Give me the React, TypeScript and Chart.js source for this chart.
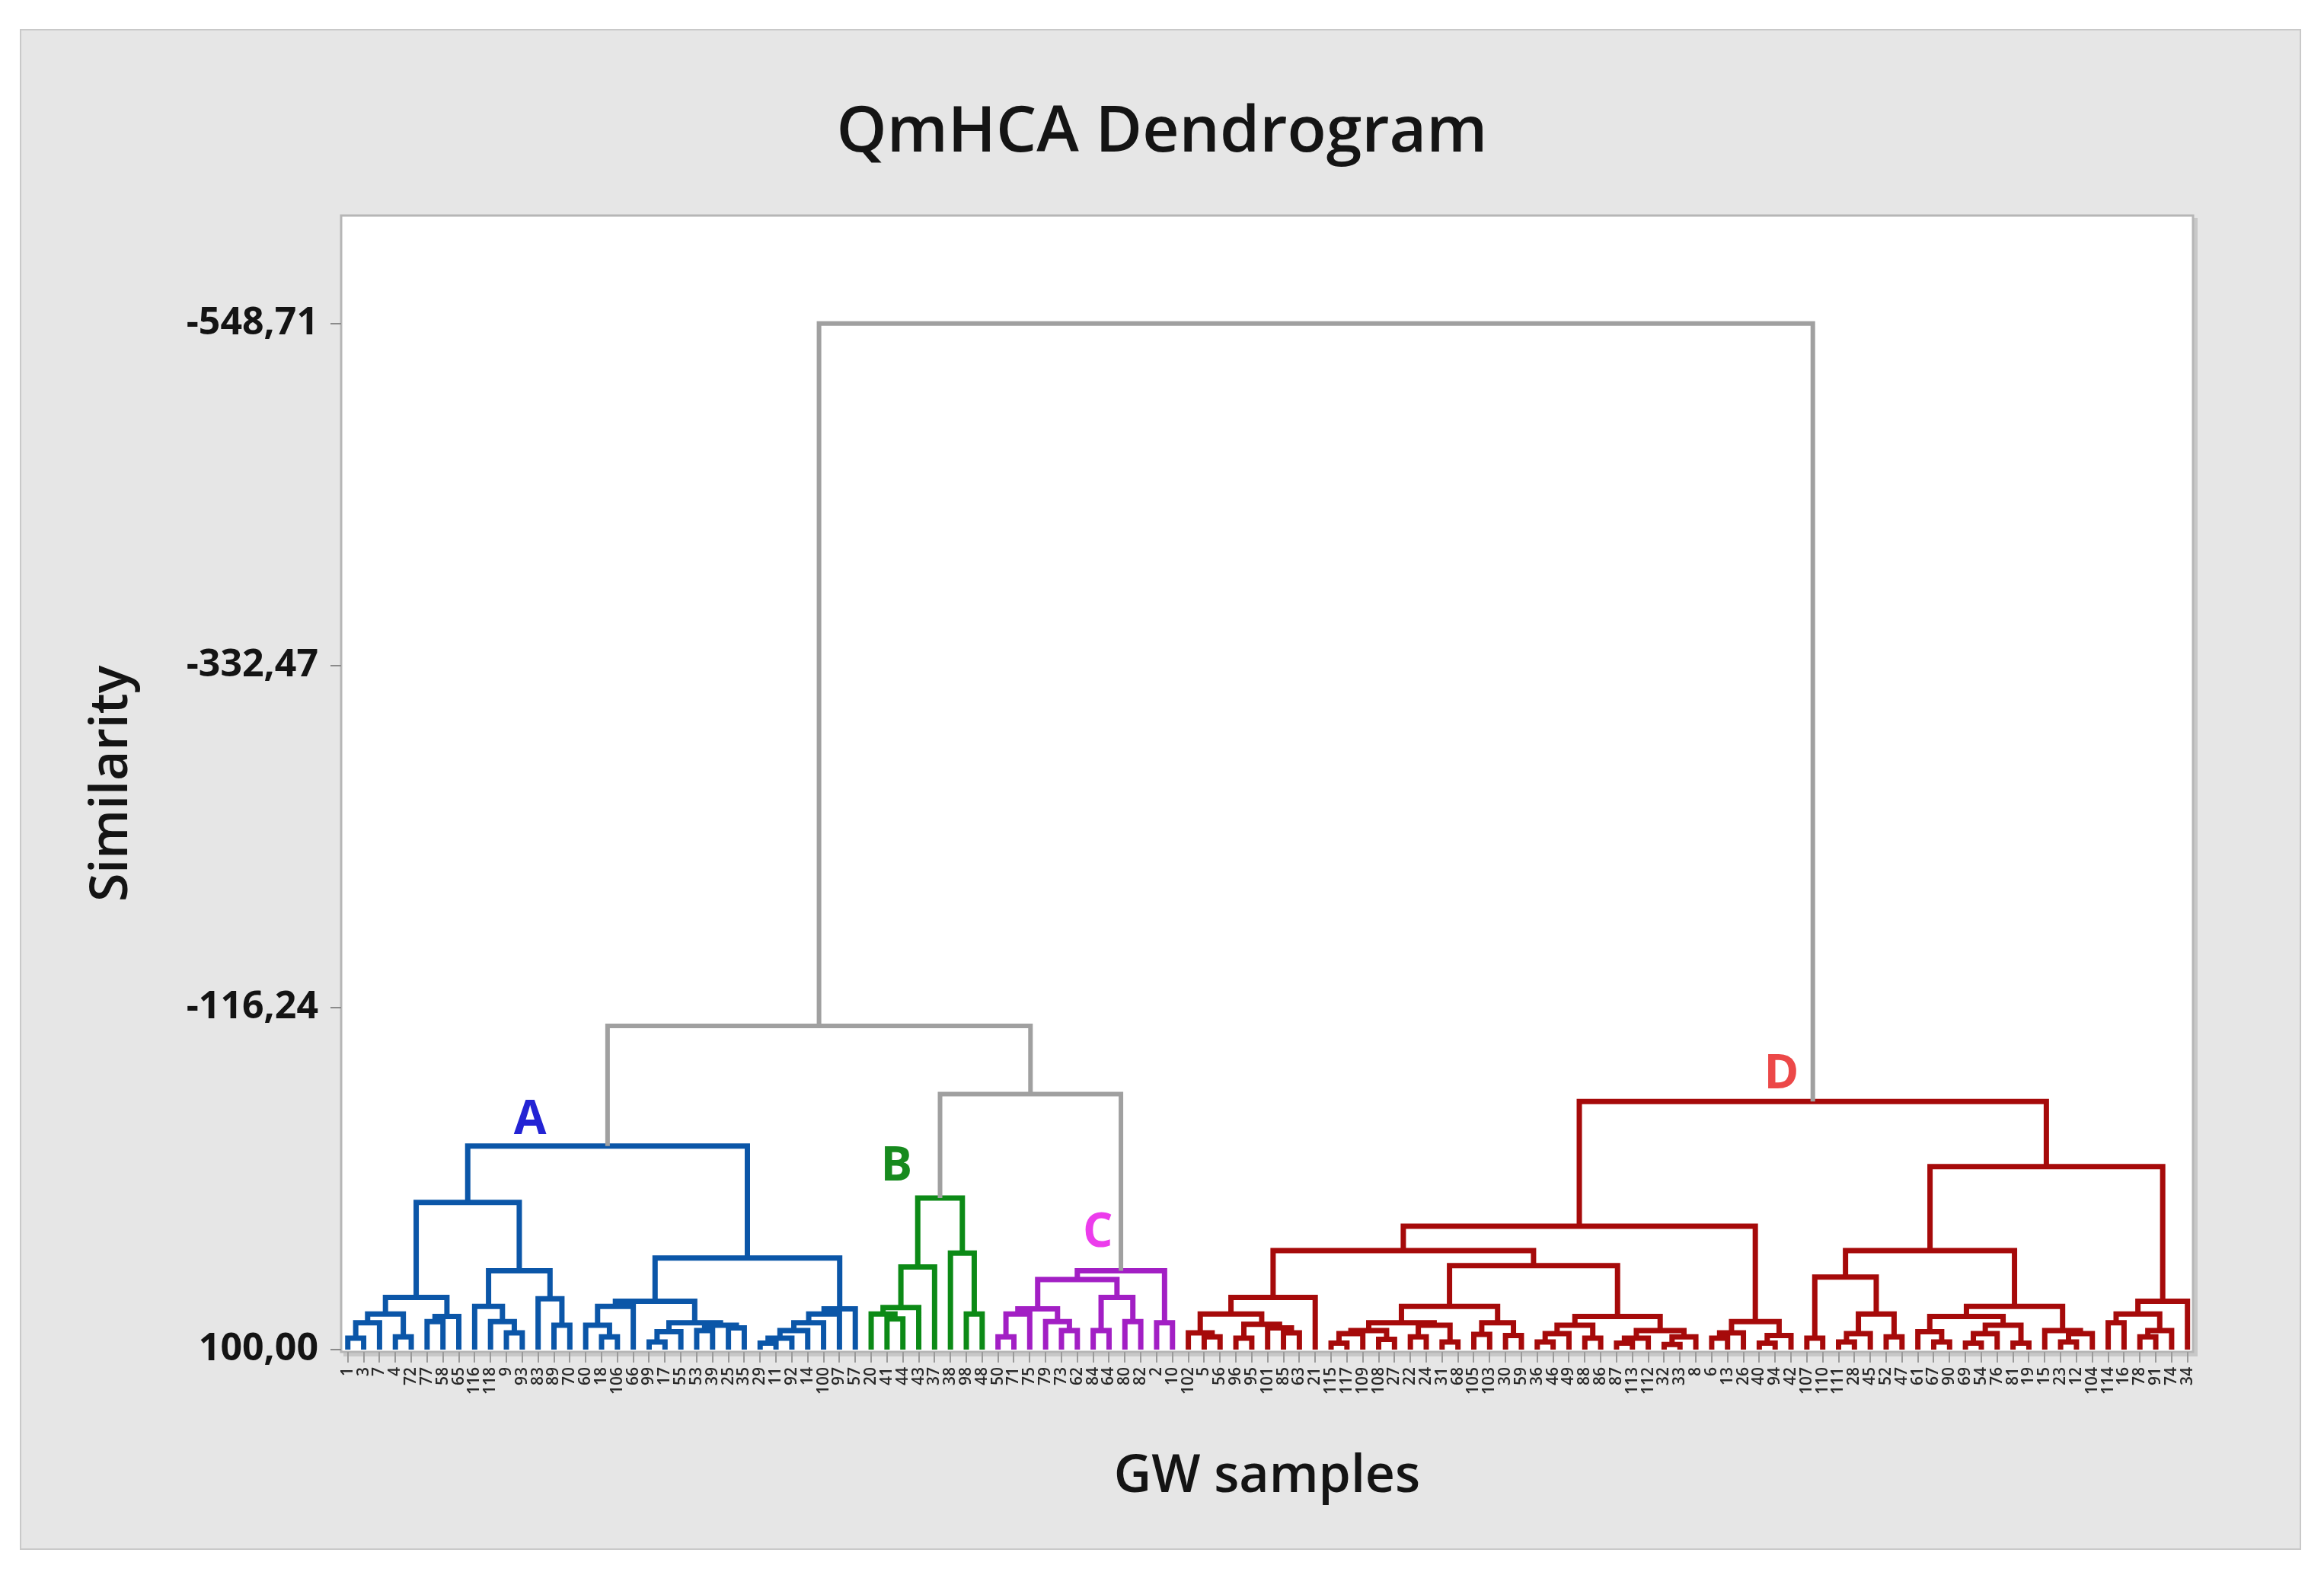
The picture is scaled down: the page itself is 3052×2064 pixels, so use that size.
import React, { useEffect, useRef } from 'react';
import { Chart, registerables } from 'chart.js';

Chart.register(...registerables);

// ---------- texts ----------
const chartTitle = 'QmHCA Dendrogram';
const xAxisTitle = 'GW samples';
const yAxisTitle = 'Similarity';

// ---------- y ticks (similarity) ----------
const yTickValues = [-548.71, -332.47, -116.24, 100.0];
const leafSimilarity = 100.0;

// ---------- sample labels (leaf order, left to right) ----------
const labelsA = ['1', '3', '7', '4', '72', '77', '58', '65', '116', '118', '9', '93', '83', '89', '70', '60', '18', '106', '66', '99', '17', '55', '53', '39', '25', '35', '29', '11', '92', '14', '100', '97', '57'];
const labelsB = ['20', '41', '44', '43', '37', '38', '98', '48'];
const labelsC = ['50', '71', '75', '79', '73', '62', '84', '64', '80', '82', '2', '10'];
const labelsD = ['102', '5', '56', '96', '95', '101', '85', '63', '21', '115', '117', '109', '108', '27', '22', '24', '31', '68', '105', '103', '30', '59', '36', '46', '49', '88', '86', '87', '113', '112', '32', '33', '8', '6', '13', '26', '40', '94', '42', '107', '110', '111', '28', '45', '52', '47', '61', '67', '90', '69', '54', '76', '81', '19', '15', '23', '12', '104', '114', '16', '78', '91', '74', '34'];
const sampleLabels = [...labelsA, ...labelsB, ...labelsC, ...labelsD];

// ---------- merge trees: [similarity, left, right]; numbers = leaf positions ----------
type Tree = number | [number, Tree, Tree];

const clusterA: Tree = [-28.6,
  [7.0,
    [67.1,
      [77.5, [83.1, [92.8, 0, 1], 2], [92.0, 3, 4]],
      [79.1, [82.3, 5, 6], 7]],
    [50.2,
      [72.7, 8, [82.3, 9, [89.5, 10, 11]]],
      [67.9, 12, [84.7, 13, 14]]]],
  [42.2,
    [69.5,
      [72.7, [84.7, 15, [92.0, 16, 17]], 18],
      [83.1, [88.7, [95.2, 19, 20], 21], [84.7, [88.0, 22, 23], [86.3, 24, 25]]]],
    [74.3, [77.5, [83.1, [88.0, [92.8, [96.0, 26, 27], 28], 29], 30], 31], 32]]];

const clusterB: Tree = [4.2,
  [47.8, [73.5, [77.5, 33, [80.7, 34, 35]], 36], 37],
  [39.0, 38, [77.5, 39, 40]]];

const clusterC: Tree = [50.2,
  [55.8,
    [74.3, [77.5, [92.0, 41, 42], 43], [82.3, 44, [88.0, 45, 46]]],
    [67.1, [88.0, 47, 48], [82.3, 49, 50]]],
  [83.1, 51, 52]];

const clusterD: Tree = [-56.8,
  [22.0,
    [37.4,
      [67.1,
        [77.5, [89.5, 53, [92.0, 54, 55]], [84.0, [92.8, 56, 57], [86.3, 58, [89.5, 59, 60]]]],
        61],
      [47.0,
        [72.7,
          [83.1, [88.0, [90.0, [96.0, 62, 63], 64], [93.6, 65, 66]], [84.7, [92.0, 67, 68], [95.2, 69, 70]]],
          [83.1, [90.4, 71, 72], [91.2, 73, 74]]],
        [79.1,
          [84.7, [90.0, [95.2, 75, 76], 77], [92.8, 78, 79]],
          [88.0, [92.8, [96.0, 80, 81], 82], [92.0, [96.8, 83, 84], 85]]]]],
    [82.3, [89.5, [92.8, 86, 87], 88], [91.2, [96.0, 89, 90], 91]]],
  [-15.6,
    [37.4,
      [54.2, [92.8, 92, 93], [77.5, [90.0, [95.2, 94, 95], 96], [92.0, 97, 98]]],
      [72.7,
        [79.1, [88.7, 99, [95.2, 100, 101]], [84.7, [90.0, [96.0, 102, 103], 104], [96.0, 105, 106]]],
        [88.0, 107, [90.0, [95.2, 108, 109], 110]]]],
    [69.5, [77.5, [83.1, 111, 112], [88.0, [92.0, 113, 114], 115]], 116]]];

const bcSimilarity = -61.5;
const abcSimilarity = -104.6;
const rootSimilarity = -548.71;

// ---------- cluster letters (placed in data units) ----------
const clusterNames = ['A', 'B', 'C', 'D'];
const clusterLetterX = [11.5, 34.6, 47.3, 90.4];
const clusterLetterY = [-44.5, -15.4, 26.5, -73.7];

// ---------- styles ----------
const FONT = "'Open Sans', 'Noto Sans', sans-serif";
const linkColor = '#a0a0a0';
const clusterLineColors = ['#0b56a8', '#0c8a16', '#a21fc4', '#a60a0a'];
const clusterLetterColors = ['#2323d4', '#178a1e', '#ec3cec', '#ec4848'];

type Pt = { x: number; y: number | null };

function buildSegments() {
  const root: Tree = [rootSimilarity, [abcSimilarity, clusterA, [bcSimilarity, clusterB, clusterC]], clusterD];
  const colorOf = new Map<any, string>();
  [clusterA, clusterB, clusterC, clusterD].forEach((t, i) => colorOf.set(t, clusterLineColors[i]));
  const buckets = new Map<string, Pt[]>();
  [linkColor, ...clusterLineColors].forEach((c) => buckets.set(c, []));

  const walk = (node: Tree, inherited: string): { x: number; h: number } => {
    if (typeof node === 'number') return { x: node, h: leafSimilarity };
    const color = colorOf.get(node) ?? inherited;
    const [h, L, R] = node;
    const l = walk(L, color);
    const r = walk(R, color);
    const arr = buckets.get(color)!;
    arr.push({ x: l.x, y: l.h }, { x: l.x, y: h }, { x: r.x, y: h }, { x: r.x, y: r.h }, { x: r.x, y: null });
    return { x: (l.x + r.x) / 2, h };
  };
  walk(root, linkColor);
  return buckets;
}

const decorPlugin = {
  id: 'decor',
  beforeDraw(chart: any) {
    const { ctx, width, height, chartArea: a } = chart;
    ctx.save();
    ctx.fillStyle = '#ffffff';
    ctx.fillRect(0, 0, width, height);
    ctx.fillStyle = '#e6e6e6';
    ctx.fillRect(27, 39, 2994, 1995);
    ctx.strokeStyle = '#c9c9c9';
    ctx.lineWidth = 2;
    ctx.strokeRect(27, 39, 2994, 1995);
    ctx.fillStyle = '#c8c8c8';
    ctx.fillRect(a.left + 3, a.top + 3, a.width + 3, a.height + 3);
    ctx.fillStyle = '#ffffff';
    ctx.fillRect(a.left, a.top, a.width, a.height);
    ctx.strokeStyle = '#b6b6b6';
    ctx.lineWidth = 3;
    ctx.strokeRect(a.left, a.top, a.width, a.height);
    ctx.restore();
  },
  afterDatasetsDraw(chart: any) {
    const { ctx } = chart;
    const xs = chart.scales.x;
    const ys = chart.scales.y;
    ctx.save();
    ctx.font = `700 62px ${FONT}`;
    ctx.textAlign = 'center';
    ctx.textBaseline = 'middle';
    clusterNames.forEach((n, i) => {
      ctx.fillStyle = clusterLetterColors[i];
      ctx.fillText(n, xs.getPixelForValue(clusterLetterX[i]), ys.getPixelForValue(clusterLetterY[i]));
    });
    ctx.restore();
  },
};

export default function App() {
  const ref = useRef<HTMLCanvasElement>(null);
  useEffect(() => {
    const buckets = buildSegments();
    const datasets = Array.from(buckets.entries()).map(([color, pts]) => ({
      data: pts,
      showLine: true,
      borderColor: color,
      backgroundColor: color,
      borderWidth: color === linkColor ? 6 : 7,
      pointRadius: 0,
      pointHoverRadius: 0,
      spanGaps: false,
      tension: 0,
      borderJoinStyle: 'miter' as const,
      borderCapStyle: 'butt' as const,
    }));
    Chart.defaults.font.family = FONT;
    const chart = new Chart(ref.current!, {
      type: 'scatter',
      data: { datasets },
      plugins: [decorPlugin],
      options: {
        animation: false,
        responsive: false,
        devicePixelRatio: 1,
        layout: { padding: { top: 40, left: 172, right: 172, bottom: 40 } },
        plugins: {
          legend: { display: false },
          tooltip: { enabled: false },
          title: {
            display: true,
            text: chartTitle,
            color: '#141414',
            font: { family: FONT, size: 84, weight: '600' },
            padding: { top: 84.6, bottom: 57.6 },
          },
        },
        scales: {
          x: {
            type: 'linear',
            min: -0.42,
            max: 116.35,
            afterBuildTicks: (s: any) => {
              s.ticks = sampleLabels.map((_, i) => ({ value: i }));
            },
            afterFit: (s: any) => {
              s.height = 249;
            },
            ticks: {
              autoSkip: false,
              maxRotation: 90,
              minRotation: 90,
              padding: 6,
              color: '#2a2a2a',
              font: { family: FONT, size: 21, weight: '600' },
              callback: (v: any) => sampleLabels[Math.round(Number(v))] ?? '',
            },
            grid: { drawOnChartArea: false, drawTicks: true, tickLength: 14, color: '#9a9a9a', lineWidth: 2 },
            border: { display: false },
            title: {
              display: true,
              text: xAxisTitle,
              color: '#141414',
              font: { family: FONT, size: 68, weight: '600' },
              padding: { top: 0, bottom: 43.2 },
            },
          },
          y: {
            type: 'linear',
            reverse: true,
            min: -617,
            max: 101.5,
            afterBuildTicks: (s: any) => {
              s.ticks = yTickValues.map((v) => ({ value: v }));
            },
            afterFit: (s: any) => {
              s.width = 276;
            },
            ticks: {
              padding: 16,
              color: '#141414',
              font: { family: FONT, size: 50, weight: '700' },
              callback: (v: any) => Number(v).toFixed(2).replace('.', ','),
            },
            grid: { drawOnChartArea: false, drawTicks: true, tickLength: 14, color: '#8a8a8a', lineWidth: 2 },
            border: { display: false },
            title: {
              display: true,
              text: yAxisTitle,
              color: '#141414',
              font: { family: FONT, size: 68, weight: '600' },
              padding: { top: -64.8, bottom: 0 },
            },
          },
        },
      },
    } as any);
    return () => chart.destroy();
  }, []);

  return (
    <div style={{ position: 'absolute', left: 0, top: 0, width: 3052, height: 2064 }}>
      <canvas ref={ref} width={3052} height={2064} style={{ display: 'block', width: 3052, height: 2064 }} />
    </div>
  );
}
